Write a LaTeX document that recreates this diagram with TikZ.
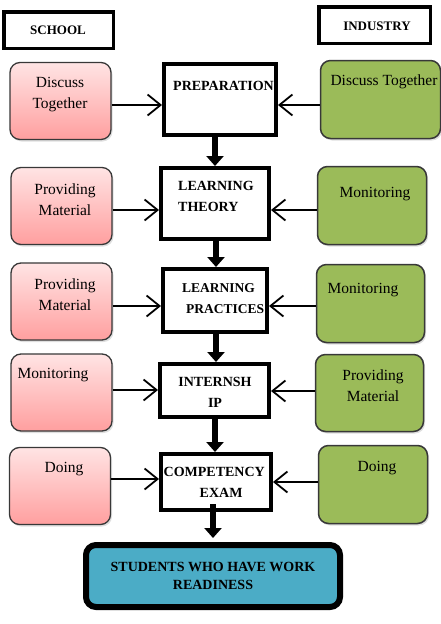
\documentclass[tikz,border=0pt]{standalone}
\usepackage{fontspec}
\setmainfont{Liberation Serif}
\usetikzlibrary{arrows.meta,shadows}
\definecolor{pinktop}{HTML}{FFE4E4}
\definecolor{pinkbot}{HTML}{FF9F9F}
\definecolor{grn}{HTML}{9BBB59}
\definecolor{blu}{HTML}{4BACC6}
\definecolor{edge}{HTML}{383838}
\begin{document}
\begin{tikzpicture}[x=1pt,y=-1pt,
  hdrbox/.style={draw=black, line width=3.5pt, fill=white, inner sep=0pt},
  pinkbox/.style={draw=edge, line width=1.3pt, rounded corners=10pt, top color=pinktop, bottom color=pinkbot, inner sep=0pt, minimum width=101pt, minimum height=77pt, drop shadow={opacity=0.25, shadow xshift=1.5pt, shadow yshift=-2pt}},
  grnbox/.style={draw=edge, line width=1.5pt, rounded corners=10pt, fill=grn, inner sep=0pt, minimum height=78pt, drop shadow={opacity=0.25, shadow xshift=1.5pt, shadow yshift=-2pt}},
  stepbox/.style={draw=black, line width=4pt, fill=white, inner sep=0pt},
  finalbox/.style={draw=black, line width=6pt, rounded corners=10pt, fill=blu, inner sep=0pt, minimum width=254pt, minimum height=62pt, drop shadow={opacity=0.3, shadow xshift=1.5pt, shadow yshift=-2.5pt}},
  reg/.style={inner sep=0pt, align=center, font=\fontsize{15.5}{21}\selectfont},
  bld/.style={inner sep=0pt, align=center, font=\bfseries\fontsize{14}{21}\selectfont},
  hdr/.style={inner sep=0pt, font=\bfseries\fontsize{13}{16}\selectfont},
  harrow/.style={line width=1.8pt, -{Straight Barb[length=13pt,width=21pt,line width=1.8pt]}},
  darrow/.style={line width=6.5pt, -{Triangle[length=10pt,width=17pt]}}
]
\useasboundingbox (0,0) rectangle (441,624);

% header boxes
\node[hdrbox, minimum width=109.5pt, minimum height=36.5pt] (school) at (58.5,30) {};
\node[hdr] (schoolt) at (58,30) {SCHOOL};
\node[hdrbox, minimum width=111.5pt, minimum height=36.5pt] (industry) at (374.5,25) {};
\node[hdr] (industryt) at (377,26) {INDUSTRY};

% school side
\node[pinkbox] (r1) at (60.5,101) {};
\node[pinkbox] (r2) at (61.5,206) {};
\node[pinkbox] (r3) at (61.5,301.5) {};
\node[pinkbox] (r4) at (61.5,392.5) {};
\node[pinkbox] (r5) at (60,486) {};
\node[reg] (r1t) at (60,95) {Discuss\\Together};
\node[reg] (r2t) at (65,199.5) {Providing\\Material};
\node[reg] (r3t) at (65,295) {Providing\\Material};
\node[reg] (r4t) at (53,375) {Monitoring};
\node[reg] (r5t) at (64,469) {Doing};

% industry side
\node[grnbox, minimum width=120pt] (g1) at (380.5,99.5) {};
\node[grnbox, minimum width=109pt] (g2) at (372,205.5) {};
\node[grnbox, minimum width=108pt] (g3) at (370.5,303.5) {};
\node[grnbox, minimum width=108pt, minimum height=77pt] (g4) at (369.5,393) {};
\node[grnbox, minimum width=109pt] (g5) at (373,484.5) {};
\node[reg] (g1t) at (384,82) {Discuss Together};
\node[reg] (g2t) at (375,194) {Monitoring};
\node[reg] (g3t) at (363,290.5) {Monitoring};
\node[reg] (g4t) at (373,386) {Providing\\Material};
\node[reg] (g5t) at (377,468) {Doing};

% steps
\node[stepbox, minimum width=112pt, minimum height=71pt] (c1) at (220,99.5) {};
\node[stepbox, minimum width=108pt, minimum height=71pt] (c2) at (215,203.5) {};
\node[stepbox, minimum width=104pt, minimum height=63pt] (c3) at (215,300.5) {};
\node[stepbox, minimum width=109pt, minimum height=53pt] (c4) at (214.5,390.5) {};
\node[stepbox, minimum width=110pt, minimum height=56pt] (c5) at (216,482) {};
\node[bld] (c1t) at (223.5,86) {PREPARATION};
\node[bld, align=left, anchor=west] (c2t) at (178,196.5) {LEARNING\\THEORY};
\node[bld, align=left, anchor=west, font=\bfseries\fontsize{13.5}{21}\selectfont] (c3t) at (182,298.5) {LEARNING\\\hspace*{4pt}PRACTICES};
\node[bld] (c4t) at (215,392.5) {INTERNSH\\IP};
\node[bld, align=left, anchor=west] (c5t) at (163.5,482.5) {COMPETENCY\\\hspace*{36pt}EXAM};

\node[finalbox] (fin) at (213,576) {};
\node[bld, font=\bfseries\fontsize{14}{18}\selectfont] (fint) at (213,576) {STUDENTS WHO HAVE WORK\\READINESS};

% horizontal arrows
\draw[harrow] (r1.east |- 0,105) -- (c1.west |- 0,105);
\draw[harrow] (r2.east |- 0,210) -- (c2.west |- 0,210);
\draw[harrow] (r3.east |- 0,306) -- (c3.west |- 0,306);
\draw[harrow] (r4.east |- 0,390) -- (c4.west |- 0,390);
\draw[harrow] (r5.east |- 0,479) -- (c5.west |- 0,479);
\draw[harrow] (g1.west |- 0,105) -- (c1.east |- 0,105);
\draw[harrow] (g2.west |- 0,210) -- (c2.east |- 0,210);
\draw[harrow] (g3.west |- 0,306) -- (c3.east |- 0,306);
\draw[harrow] (g4.west |- 0,391) -- (c4.east |- 0,391);
\draw[harrow] (g5.west |- 0,482) -- (c5.east |- 0,482);

% vertical arrows
\draw[darrow] (c1.south -| 215,0) -- (c2.north -| 215,0);
\draw[darrow] (c2.south -| 216,0) -- (c3.north -| 216,0);
\draw[darrow] (c3.south -| 216,0) -- (c4.north -| 216,0);
\draw[darrow] (c4.south -| 215,0) -- (c5.north -| 215,0);
\draw[darrow] ([yshift=8pt]c5.south -| 213,0) -- ([yshift=4pt]fin.north -| 213,0);
\end{tikzpicture}
\end{document}
